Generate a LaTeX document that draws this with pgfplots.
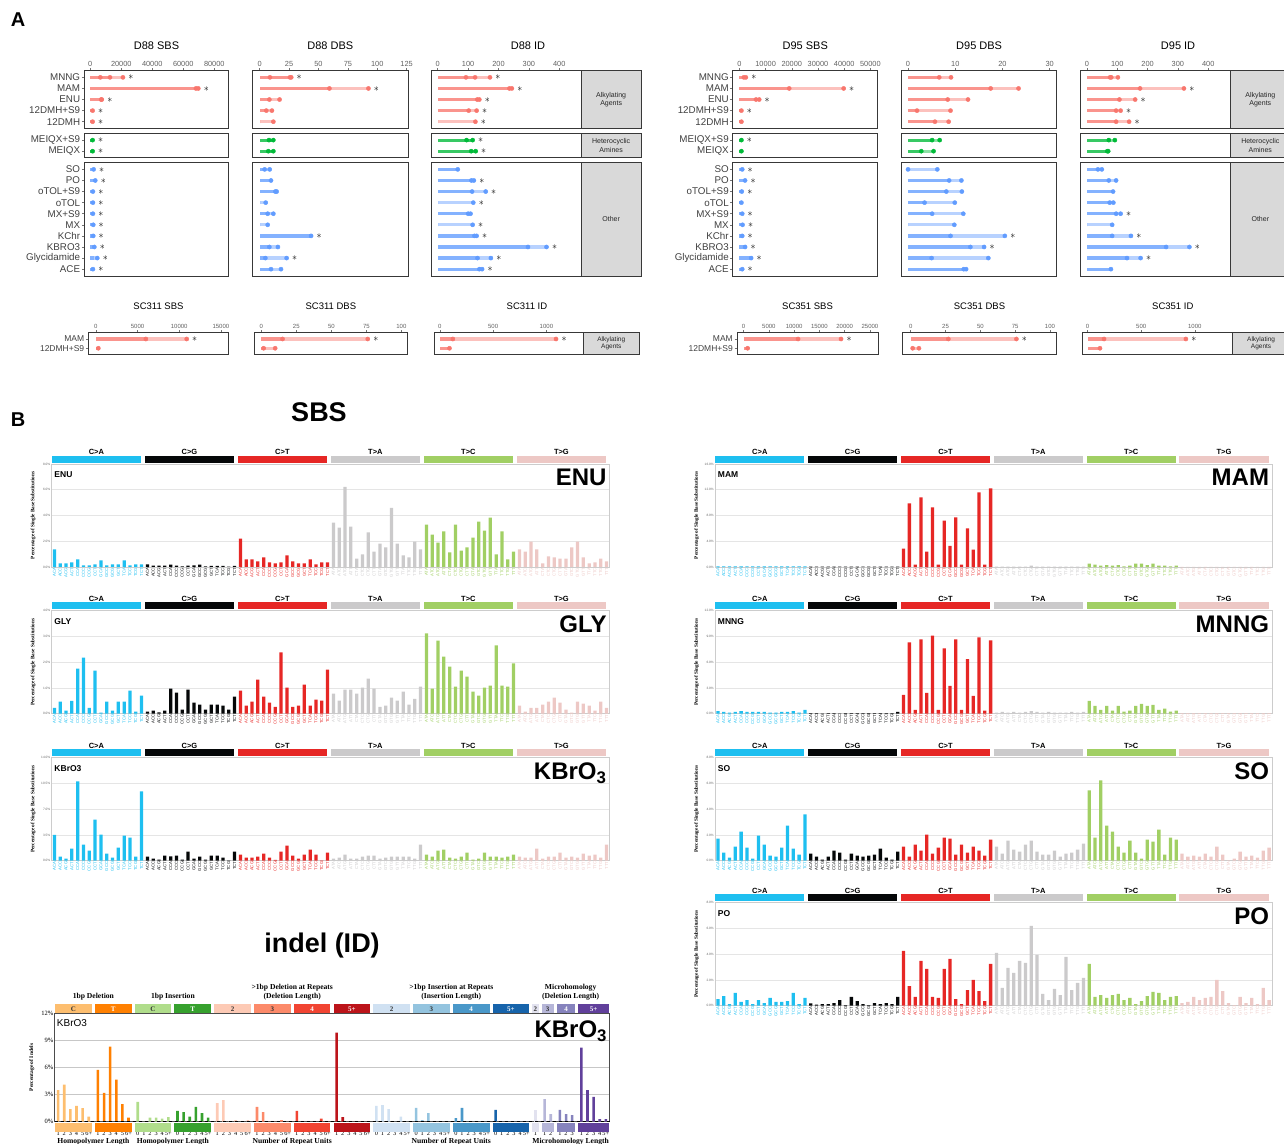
\documentclass[border=0pt]{standalone}
\usepackage{pgfplots}
\pgfplotsset{compat=1.18}
\usepackage{pgfplotstable}
\usepackage{fontspec}
\setmainfont{Liberation Sans}
\newfontfamily\tnr{Liberation Serif}
\newcommand\fs[1]{\fontsize{#1}{#1}\selectfont}

\definecolor{cR}{HTML}{F8766D}
\definecolor{cG}{HTML}{00BA38}
\definecolor{cB}{HTML}{619CFF}
\definecolor{g0}{HTML}{1EBFF0}
\definecolor{g1}{HTML}{050708}
\definecolor{g2}{HTML}{E62725}
\definecolor{g3}{HTML}{CBCACB}
\definecolor{g4}{HTML}{A1CF64}
\definecolor{g5}{HTML}{EDC8C5}
\definecolor{i0}{HTML}{FDBE6F}
\definecolor{i1}{HTML}{FF8001}
\definecolor{i2}{HTML}{B0DD8B}
\definecolor{i3}{HTML}{36A12E}
\definecolor{i4}{HTML}{FDCAB5}
\definecolor{i5}{HTML}{FC8A6A}
\definecolor{i6}{HTML}{F14432}
\definecolor{i7}{HTML}{BC141A}
\definecolor{i8}{HTML}{D0E1F2}
\definecolor{i9}{HTML}{94C4DF}
\definecolor{i10}{HTML}{4A98C9}
\definecolor{i11}{HTML}{1764AB}
\definecolor{i12}{HTML}{E2E2EF}
\definecolor{i13}{HTML}{B6B6D8}
\definecolor{i14}{HTML}{8683BD}
\definecolor{i15}{HTML}{61409B}

\tikzset{
 bx/.style={line width=0.9pt, draw=black!78},
 stx/.style={xshift=8pt, yshift=-0.3pt, font=\fs{10}, inner sep=0pt},
 stl/.style={font=\fontsize{7}{8.5}\selectfont, align=center, text=black!85},
 ttl/.style={yshift=24.7pt, font=\fs{11}},
 ttlS/.style={yshift=25.8pt, font=\fs{9.5}},
 hd/.style={font=\bfseries\fs{7.5}, inner sep=0pt},
 ihd/.style={font=\tnr\bfseries\fontsize{7.6}{9}\selectfont, align=center},
}

\pgfplotsset{
 /pgf/number format/assume math mode=true,
 /pgf/number format/1000 sep={},
 lt/.style={xbar, bar width=3.2pt, bar shift=0pt, draw=none, fill=#1!45!white},
 dk/.style={xbar, bar width=3.2pt, bar shift=0pt, draw=none, fill=#1!78!white},
 dt/.style={only marks, mark=*, mark size=2.1pt, color=#1, mark options={fill=#1, draw=#1}},
 panA/.style={scale only axis, anchor=north west, height=206pt, ymin=-17.98, ymax=0.6, clip=false,
   axis line style={draw=none}, xtick pos=right, xticklabel pos=right, ytick=\empty,
   tick align=outside, major tick length=2.5pt, tick style={black!55, line width=0.5pt},
   xticklabel style={font=\fs{7.4}, text=black!62, inner sep=1.2pt},
   yticklabel style={font=\fs{9.8}, text=black!75, inner sep=1.5pt},
   scaled x ticks=false},
 rowlabs/.style={ytick={0,-1,-2,-3,-4,-5.66,-6.66,-8.3,-9.3,-10.3,-11.3,-12.3,-13.3,-14.3,-15.3,-16.3,-17.3},
   yticklabels={MNNG,MAM,ENU,12DMH+S9,12DMH,MEIQX+S9,MEIQX,SO,PO,oTOL+S9,oTOL,MX+S9,MX,KChr,KBRO3,Glycidamide,ACE},
   ytick pos=left},
 scA/.style={panA, height=21.5pt, ymin=-1.62, ymax=0.70,
   xticklabel style={font=\fs{6}}, yticklabel style={font=\fs{8.5}}},
 sbs/.style={scale only axis, anchor=north west, width=558pt, height=103pt, xmin=0.5, xmax=96.5, ymin=0, clip=false,
   axis line style={black!20, line width=0.6pt}, ymajorgrids, grid style={black!10, line width=0.6pt},
   xtick={1,...,96}, xticklabel={\sbslab}, major tick length=0pt,
   xticklabel style={rotate=90, anchor=east, font=\fs{4.2}, inner sep=0.8pt},
   yticklabel={\pgfmathprintnumber[fixed, fixed zerofill, precision=1]{\tick}\%},
   yticklabel style={font=\fs{3.2}, text=black!60, inner sep=1pt},
   ylabel={Percentage of Single Base Substitutions},
   ylabel style={font={\tnr\bfseries\fs{5.2}}, at={(rel axis cs:-0.0225,0.5)}, anchor=south}},
 sb/.style={ybar, bar width=3.3pt, bar shift=0pt, draw=none, fill=#1},
}

\newcommand\rw[6]{%
\addplot[lt=#1] coordinates {(#4,#2)};%
\addplot[dk=#1] coordinates {(#3,#2)};%
\addplot[dt=#1] coordinates {#5};%
\ifnum#6=1 \node[stx] at (axis cs:#4,#2) {$\ast$};\fi}

\newcommand\boxesA{%
\draw[bx] (rel axis cs:0,0.7204) rectangle (rel axis cs:1,1);
\draw[bx] (rel axis cs:0,0.5796) rectangle (rel axis cs:1,0.6961);
\draw[bx] (rel axis cs:0,0) rectangle (rel axis cs:1,0.5553);}
\newcommand\stripA[2]{%
\draw[bx, fill=black!15] (rel axis cs:1,0.7204) rectangle (rel axis cs:#1,1);
\draw[bx, fill=black!15] (rel axis cs:1,0.5796) rectangle (rel axis cs:#1,0.6961);
\draw[bx, fill=black!15] (rel axis cs:1,0) rectangle (rel axis cs:#1,0.5553);
\node[stl] at (rel axis cs:#2,0.8602) {Alkylating\\Agents};
\node[stl] at (rel axis cs:#2,0.6379) {Heterocyclic\\Amines};
\node[stl] at (rel axis cs:#2,0.2777) {Other};}
\newcommand\stripS[2]{%
\draw[bx, fill=black!15] (rel axis cs:1,0) rectangle (rel axis cs:#1,1);
\node[stl, font=\fontsize{6.5}{7.5}\selectfont] at (rel axis cs:#2,0.5) {Alkylating\\Agents};}

\newcommand\nt[1]{\ifcase#1 A\or C\or G\or T\fi}
\newcommand\sbslab{%
\pgfmathtruncatemacro\Sg{\ticknum/16}%
\pgfmathtruncatemacro\Sc{\ticknum-16*\Sg}%
\pgfmathtruncatemacro\Sq{\Sc/4}%
\pgfmathtruncatemacro\Sr{\Sc-4*\Sq}%
\textcolor{g\Sg}{\nt\Sq\ifnum\Sg<3 C\else T\fi\nt\Sr}}

\newcommand\sbsbars[1]{%
\addplot[sb=g0, restrict x to domain=0.5:16.5] table[x expr=\coordindex+1, y=v] {#1};
\addplot[sb=g1, restrict x to domain=16.5:32.5] table[x expr=\coordindex+1, y=v] {#1};
\addplot[sb=g2, restrict x to domain=32.5:48.5] table[x expr=\coordindex+1, y=v] {#1};
\addplot[sb=g3, restrict x to domain=48.5:64.5] table[x expr=\coordindex+1, y=v] {#1};
\addplot[sb=g4, restrict x to domain=64.5:80.5] table[x expr=\coordindex+1, y=v] {#1};
\addplot[sb=g5, restrict x to domain=80.5:96.5] table[x expr=\coordindex+1, y=v] {#1};}
\newcommand\sbshead{%
\fill[g0] (rel axis cs:0.0005,1.0126) rectangle (rel axis cs:0.1605,1.0806);
\fill[g1] (rel axis cs:0.1672,1.0126) rectangle (rel axis cs:0.3272,1.0806);
\fill[g2] (rel axis cs:0.3338,1.0126) rectangle (rel axis cs:0.4938,1.0806);
\fill[g3] (rel axis cs:0.5005,1.0126) rectangle (rel axis cs:0.6605,1.0806);
\fill[g4] (rel axis cs:0.6672,1.0126) rectangle (rel axis cs:0.8272,1.0806);
\fill[g5] (rel axis cs:0.8338,1.0126) rectangle (rel axis cs:0.9938,1.0806);
\node[hd] at (rel axis cs:0.0805,1.119) {C>A};
\node[hd] at (rel axis cs:0.2472,1.119) {C>G};
\node[hd] at (rel axis cs:0.4138,1.119) {C>T};
\node[hd] at (rel axis cs:0.5805,1.119) {T>A};
\node[hd] at (rel axis cs:0.7472,1.119) {T>C};
\node[hd] at (rel axis cs:0.9138,1.119) {T>G};}
\newcommand\sbstext[2]{%
\node[font=\bfseries\fs{8.5}, anchor=west, inner sep=0pt] at (rel axis cs:0.005,0.894) {#1};
\node[font=\bfseries\fs{24}, anchor=north east, inner sep=0pt] at (rel axis cs:0.995,0.952) {#2};}

% SBS profiles (percent of single base substitutions), 96 channels each
\pgfplotstableread[row sep=\\]{v\\
1.36\\0.28\\0.28\\0.36\\0.60\\0.12\\0.12\\0.20\\0.52\\0.12\\0.20\\0.20\\0.52\\0.12\\0.20\\0.20\\
0.20\\0.10\\0.10\\0.10\\0.18\\0.10\\0.05\\0.10\\0.13\\0.18\\0.05\\0.08\\0.08\\0.08\\0.02\\0.08\\
2.20\\0.60\\0.60\\0.44\\0.74\\0.36\\0.28\\0.36\\0.90\\0.44\\0.28\\0.28\\0.60\\0.20\\0.36\\0.36\\
3.44\\3.06\\6.22\\3.14\\0.66\\0.98\\2.68\\1.20\\1.82\\1.52\\4.60\\1.82\\0.90\\0.74\\1.98\\1.36\\
3.30\\2.52\\1.90\\2.76\\1.14\\3.30\\1.28\\1.52\\2.28\\3.52\\2.82\\3.84\\0.98\\2.76\\0.60\\1.20\\
1.36\\1.20\\1.98\\1.36\\0.28\\0.82\\0.74\\0.66\\0.66\\1.52\\1.98\\0.74\\0.28\\0.36\\0.66\\0.44\\
}\tENU
\pgfplotstableread[row sep=\\]{v\\
0.23\\0.47\\0.12\\0.50\\1.75\\2.18\\0.23\\1.67\\0.04\\0.47\\0.12\\0.47\\0.47\\0.90\\0.08\\0.70\\
0.08\\0.12\\0.05\\0.12\\0.97\\0.82\\0.16\\0.94\\0.43\\0.35\\0.16\\0.35\\0.35\\0.31\\0.16\\0.66\\
0.90\\0.31\\0.47\\1.32\\0.66\\0.43\\0.27\\2.38\\1.01\\0.27\\0.31\\1.13\\0.31\\0.55\\0.51\\1.71\\
0.78\\0.51\\0.94\\0.94\\0.78\\1.01\\1.36\\0.97\\0.27\\0.31\\0.62\\0.51\\0.86\\0.35\\0.58\\1.05\\
3.12\\0.97\\2.84\\2.22\\1.83\\1.05\\1.67\\1.44\\0.86\\0.70\\1.01\\1.09\\2.65\\1.09\\1.05\\1.95\\
0.31\\0.08\\0.23\\0.23\\0.35\\0.47\\0.62\\0.43\\0.16\\0.04\\0.47\\0.39\\0.31\\0.12\\0.47\\0.23\\
}\tGLY
\pgfplotstableread[row sep=\\]{v\\
3.50\\0.55\\0.27\\1.64\\10.8\\2.19\\1.37\\5.60\\3.56\\0.96\\0.41\\1.78\\3.42\\3.15\\0.55\\9.44\\
0.55\\0.27\\0.14\\0.68\\0.60\\0.68\\0.14\\1.23\\0.27\\0.55\\0.14\\0.68\\0.68\\0.41\\0.05\\1.23\\
0.82\\0.41\\0.41\\0.55\\0.96\\0.41\\0.10\\1.23\\2.05\\0.68\\0.27\\0.82\\1.50\\0.82\\0.05\\1.09\\
0.27\\0.41\\0.82\\0.27\\0.27\\0.55\\0.68\\0.68\\0.27\\0.41\\0.55\\0.55\\0.55\\0.55\\0.27\\2.19\\
0.82\\0.55\\1.37\\1.50\\0.41\\0.27\\0.55\\1.09\\0.14\\0.27\\1.09\\0.55\\0.55\\0.41\\0.55\\0.82\\
0.55\\0.41\\0.41\\1.64\\0.27\\0.55\\0.55\\1.09\\0.41\\0.55\\0.41\\0.96\\0.68\\0.82\\0.41\\2.19\\
}\tKBR
\pgfplotstableread[row sep=\\]{v\\
0.08\\0.08\\0.08\\0.08\\0.08\\0.08\\0.08\\0.08\\0.08\\0.08\\0.08\\0.08\\0.08\\0.08\\0.08\\0.08\\
0.05\\0.05\\0.05\\0.05\\0.05\\0.05\\0.05\\0.05\\0.05\\0.05\\0.05\\0.05\\0.05\\0.05\\0.05\\0.05\\
2.86\\9.90\\0.36\\10.8\\2.40\\9.26\\0.36\\7.20\\3.30\\7.70\\0.36\\6.00\\2.70\\11.6\\0.36\\12.2\\
0.05\\0.05\\0.05\\0.05\\0.05\\0.05\\0.20\\0.05\\0.05\\0.05\\0.05\\0.05\\0.05\\0.05\\0.05\\0.05\\
0.52\\0.36\\0.20\\0.30\\0.20\\0.30\\0.10\\0.20\\0.52\\0.52\\0.30\\0.52\\0.20\\0.20\\0.10\\0.20\\
0.03\\0.03\\0.03\\0.03\\0.03\\0.03\\0.03\\0.03\\0.03\\0.03\\0.03\\0.03\\0.03\\0.03\\0.03\\0.03\\
}\tMAM
\pgfplotstableread[row sep=\\]{v\\
0.30\\0.20\\0.12\\0.20\\0.30\\0.20\\0.20\\0.20\\0.20\\0.12\\0.12\\0.20\\0.20\\0.30\\0.12\\0.46\\
0.08\\0.08\\0.04\\0.08\\0.08\\0.04\\0.08\\0.08\\0.08\\0.08\\0.08\\0.08\\0.08\\0.08\\0.08\\0.20\\
2.20\\8.30\\0.46\\8.65\\2.42\\9.10\\0.46\\7.60\\3.23\\8.65\\0.46\\6.35\\2.08\\8.90\\0.35\\8.54\\
0.12\\0.20\\0.12\\0.20\\0.12\\0.20\\0.30\\0.20\\0.12\\0.20\\0.12\\0.12\\0.12\\0.20\\0.12\\0.20\\
1.50\\0.92\\0.46\\0.92\\0.35\\0.92\\0.23\\0.35\\0.92\\1.15\\0.92\\1.04\\0.46\\0.58\\0.23\\0.35\\
0.06\\0.06\\0.06\\0.06\\0.06\\0.06\\0.06\\0.06\\0.06\\0.06\\0.06\\0.06\\0.06\\0.06\\0.06\\0.06\\
}\tMNNG
\pgfplotstableread[row sep=\\]{v\\
1.72\\0.62\\0.23\\1.09\\2.26\\1.01\\0.16\\1.95\\1.25\\0.39\\0.31\\1.01\\2.73\\0.94\\0.47\\3.59\\
0.55\\0.31\\0.08\\0.31\\0.78\\0.62\\0.08\\0.55\\0.39\\0.31\\0.39\\0.47\\0.94\\0.23\\0.08\\0.70\\
1.09\\0.31\\1.25\\0.78\\2.03\\0.55\\1.01\\1.79\\1.72\\0.47\\1.25\\0.62\\1.09\\0.78\\0.39\\1.64\\
1.09\\0.55\\1.56\\0.86\\0.70\\1.25\\1.56\\0.70\\0.47\\0.47\\0.78\\0.31\\0.55\\0.62\\0.86\\1.33\\
5.46\\1.79\\6.24\\2.73\\2.26\\1.09\\0.62\\1.56\\0.62\\0.16\\1.64\\1.48\\2.42\\0.47\\1.79\\1.64\\
0.55\\0.31\\0.39\\0.31\\0.55\\0.31\\1.09\\0.47\\0.03\\0.16\\0.70\\0.31\\0.39\\0.23\\0.78\\1.01\\
}\tSO
\pgfplotstableread[row sep=\\]{v\\
0.52\\0.75\\0.13\\0.99\\0.29\\0.44\\0.13\\0.44\\0.21\\0.60\\0.29\\0.29\\0.36\\0.99\\0.13\\0.60\\
0.18\\0.08\\0.13\\0.13\\0.21\\0.44\\0.05\\0.68\\0.36\\0.13\\0.05\\0.21\\0.13\\0.21\\0.13\\0.68\\
4.26\\1.53\\0.68\\3.48\\2.86\\0.68\\0.60\\2.86\\3.64\\0.52\\0.13\\1.22\\2.00\\1.14\\0.36\\3.25\\
4.10\\1.38\\2.94\\2.55\\3.48\\3.33\\6.21\\3.95\\0.91\\0.44\\1.30\\0.83\\3.80\\1.22\\1.77\\2.16\\
3.25\\0.68\\0.83\\0.60\\0.83\\0.91\\0.44\\0.60\\0.13\\0.36\\0.75\\1.07\\0.99\\0.44\\0.68\\0.75\\
0.21\\0.29\\0.68\\0.44\\0.60\\0.68\\2.00\\1.14\\0.21\\0.05\\0.68\\0.21\\0.60\\0.13\\1.38\\0.44\\
}\tPO
% indel profile (KBrO3), percent of indels
\pgfplotstableread{
x y
0 3.5
1 4.1
2 1.4
3 1.75
4 1.5
5 0.55
6.5 5.75
7.5 3.2
8.5 8.3
9.5 4.67
10.5 1.96
11.5 0.44
13 2.2
14 0
15 0.44
16 0.44
17 0.33
18 0.52
19.5 1.19
20.5 1.07
21.5 0.55
22.5 1.63
23.5 0.96
24.5 0.44
26 2.07
27 2.4
28 0.04
29 0.18
30 0
31 0.18
32.5 1.63
33.5 1.07
34.5 0
35.5 0
36.5 0.18
37.5 0
39 1.19
40 0
41 0
42 0
43 0.33
44 0
45.5 9.85
46.5 0.52
47.5 0
48.5 0
49.5 0
50.5 0
52 1.74
53 1.85
54 1.4
55 0
56 0.55
57 0
58.5 1.52
59.5 0.18
60.5 0.96
61.5 0
62.5 0
63.5 0
65 0.4
66 1.52
67 0
68 0
69 0
70 0
71.5 1.3
72.5 0
73.5 0
74.5 0
75.5 0
76.5 0
78 1.3
79.5 2.5
80.5 0.85
82 1.3
83 0.85
84 0.74
85.5 8.2
86.5 3.5
87.5 2.74
88.5 0.3
89.5 0.3
}\tID

\newcommand\ib[3]{\addplot[ybar, bar width=2.6pt, bar shift=0pt, draw=none, fill=#1, restrict x to domain=#2:#3] table[x=x,y=y]{\tID};}
\newcommand\ibk[3]{%
\fill[#1] (axis cs:#2,12) rectangle (axis cs:#3,13.03);
\fill[#1] (axis cs:#2,-0.11) rectangle (axis cs:#3,-1.11);}
\newcommand\ibl[3]{\node[font=\tnr\bfseries\fs{7}, text=#2, inner sep=0pt] at (axis cs:#1,12.5) {#3};}

\begin{document}
\begin{tikzpicture}
\useasboundingbox (0,0) rectangle (1284pt,-1143pt);
\node[font=\bfseries\fs{20}] at (18pt,-20pt) {A};
\node[font=\bfseries\fs{20}] at (18pt,-420pt) {B};

% ---------------- D88 SBS
\begin{axis}[panA, rowlabs, at={(84.3pt,-70.7pt)}, width=144.4pt, xmin=-3870, xmax=89290, xtick={0,20000,40000,60000,80000}]
\boxesA
\node[ttl] at (rel axis cs:0.5,1) {D88 SBS};
\rw{cR}{0}{12690}{21070}{(6450,0)(12690,0)(21070,0)}{1}
\rw{cR}{-1}{69680}{69680}{(68170,-1)(69680,-1)}{1}
\rw{cR}{-2}{7400}{7400}{(7000,-2)(7400,-2)}{1}
\rw{cR}{-3}{1500}{1500}{(1500,-3)}{1}
\rw{cR}{-4}{1500}{1500}{(1500,-4)}{1}
\rw{cG}{-5.66}{1500}{1500}{(1500,-5.66)}{1}
\rw{cG}{-6.66}{1500}{1500}{(1500,-6.66)}{1}
\rw{cB}{-8.3}{2150}{2150}{(2150,-8.3)}{1}
\rw{cB}{-9.3}{3200}{3200}{(3200,-9.3)}{1}
\rw{cB}{-10.3}{1700}{1700}{(1700,-10.3)}{1}
\rw{cB}{-11.3}{1700}{1700}{(1700,-11.3)}{1}
\rw{cB}{-12.3}{1700}{1700}{(1700,-12.3)}{1}
\rw{cB}{-13.3}{1900}{1900}{(1900,-13.3)}{1}
\rw{cB}{-14.3}{1900}{1900}{(1900,-14.3)}{1}
\rw{cB}{-15.3}{2600}{2600}{(2600,-15.3)}{1}
\rw{cB}{-16.3}{2500}{4500}{(4500,-16.3)}{1}
\rw{cB}{-17.3}{1700}{1700}{(1700,-17.3)}{1}
\end{axis}

% ---------------- D88 DBS
\begin{axis}[panA, at={(252.3pt,-70.7pt)}, width=156pt, xmin=-6.3, xmax=126.4, xtick={0,25,50,75,100,125}]
\boxesA
\node[ttl] at (rel axis cs:0.5,1) {D88 DBS};
\rw{cR}{0}{25.7}{26.8}{(8.7,0)(25.7,0)(26.8,0)}{1}
\rw{cR}{-1}{59.3}{92.5}{(59.3,-1)(92.5,-1)}{1}
\rw{cR}{-2}{8.2}{16.9}{(8.2,-2)(16.9,-2)}{0}
\rw{cR}{-3}{5.6}{10.4}{(5.6,-3)(10.4,-3)}{0}
\rw{cR}{-4}{0}{11.6}{(11.6,-4)}{0}
\rw{cG}{-5.66}{11.6}{11.6}{(7.9,-5.66)(11.6,-5.66)}{0}
\rw{cG}{-6.66}{11.6}{11.6}{(7.3,-6.66)(11.6,-6.66)}{0}
\rw{cB}{-8.3}{4.2}{8.5}{(4.2,-8.3)(8.5,-8.3)}{0}
\rw{cB}{-9.3}{9.6}{9.6}{(9.6,-9.3)}{0}
\rw{cB}{-10.3}{14.4}{14.4}{(13.3,-10.3)(14.4,-10.3)}{0}
\rw{cB}{-11.3}{0}{5.1}{(5.1,-11.3)}{0}
\rw{cB}{-12.3}{6.8}{11.6}{(6.8,-12.3)(11.6,-12.3)}{0}
\rw{cB}{-13.3}{0}{6.8}{(6.8,-13.3)}{0}
\rw{cB}{-14.3}{43.7}{43.7}{(43.7,-14.3)}{1}
\rw{cB}{-15.3}{8.2}{15.5}{(8.2,-15.3)(15.5,-15.3)}{0}
\rw{cB}{-16.3}{4.8}{22.9}{(4.8,-16.3)(22.9,-16.3)}{1}
\rw{cB}{-17.3}{9.6}{18.1}{(9.6,-17.3)(18.1,-17.3)}{0}
\end{axis}

% ---------------- D88 ID
\begin{axis}[panA, at={(431.7pt,-70.7pt)}, width=149.6pt, xmin=-19.7, xmax=472.4, xtick={0,100,200,300,400}]
\boxesA
\stripA{1.399}{1.1995}
\node[ttl] at (rel axis cs:0.644,1) {D88 ID};
\rw{cR}{0}{123}{172}{(93,0)(123,0)(172,0)}{1}
\rw{cR}{-1}{244}{244}{(236,-1)(244,-1)}{1}
\rw{cR}{-2}{137}{137}{(130,-2)(137,-2)}{1}
\rw{cR}{-3}{102}{128}{(102,-3)(128,-3)}{1}
\rw{cR}{-4}{0}{124}{(124,-4)}{1}
\rw{cG}{-5.66}{115}{115}{(95,-5.66)(115,-5.66)}{1}
\rw{cG}{-6.66}{125}{125}{(110,-6.66)(125,-6.66)}{1}
\rw{cB}{-8.3}{66}{66}{(66,-8.3)}{0}
\rw{cB}{-9.3}{119}{119}{(111,-9.3)(119,-9.3)}{1}
\rw{cB}{-10.3}{113}{158}{(113,-10.3)(158,-10.3)}{1}
\rw{cB}{-11.3}{0}{117}{(117,-11.3)}{1}
\rw{cB}{-12.3}{108}{108}{(100,-12.3)(108,-12.3)}{0}
\rw{cB}{-13.3}{0}{115}{(115,-13.3)}{1}
\rw{cB}{-14.3}{128}{128}{(121,-14.3)(128,-14.3)}{1}
\rw{cB}{-15.3}{297}{358}{(297,-15.3)(358,-15.3)}{1}
\rw{cB}{-16.3}{131}{175}{(131,-16.3)(175,-16.3)}{1}
\rw{cB}{-17.3}{146}{146}{(137,-17.3)(146,-17.3)}{1}
\end{axis}

% ---------------- D95 SBS
\begin{axis}[panA, rowlabs, at={(732.9pt,-70.7pt)}, width=144.8pt, xmin=-2480, xmax=52790, xtick={0,10000,20000,30000,40000,50000}]
\boxesA
\node[ttl] at (rel axis cs:0.5,1) {D95 SBS};
\rw{cR}{0}{2470}{2470}{(1700,0)(2470,0)}{1}
\rw{cR}{-1}{19000}{39800}{(19000,-1)(39800,-1)}{1}
\rw{cR}{-2}{7560}{7560}{(6330,-2)(7560,-2)}{1}
\rw{cR}{-3}{770}{770}{(770,-3)}{1}
\rw{cR}{-4}{770}{770}{(770,-4)}{0}
\rw{cG}{-5.66}{770}{770}{(770,-5.66)}{1}
\rw{cG}{-6.66}{770}{770}{(770,-6.66)}{0}
\rw{cB}{-8.3}{1080}{1080}{(1080,-8.3)}{1}
\rw{cB}{-9.3}{2160}{2160}{(2160,-9.3)}{1}
\rw{cB}{-10.3}{900}{900}{(900,-10.3)}{1}
\rw{cB}{-11.3}{770}{770}{(770,-11.3)}{0}
\rw{cB}{-12.3}{1080}{1080}{(1080,-12.3)}{1}
\rw{cB}{-13.3}{1200}{1200}{(1200,-13.3)}{1}
\rw{cB}{-14.3}{1080}{1080}{(1080,-14.3)}{1}
\rw{cB}{-15.3}{2160}{2160}{(2160,-15.3)}{1}
\rw{cB}{-16.3}{4480}{4480}{(4480,-16.3)}{1}
\rw{cB}{-17.3}{1080}{1080}{(1080,-17.3)}{1}
\end{axis}

% ---------------- D95 DBS
\begin{axis}[panA, at={(901.5pt,-70.7pt)}, width=155.3pt, xmin=-1.38, xmax=31.5, xtick={0,10,20,30}]
\boxesA
\node[ttl] at (rel axis cs:0.5,1) {D95 DBS};
\rw{cR}{0}{6.6}{9.1}{(6.6,0)(9.1,0)}{0}
\rw{cR}{-1}{17.5}{23.4}{(17.5,-1)(23.4,-1)}{0}
\rw{cR}{-2}{8.4}{12.7}{(8.4,-2)(12.7,-2)}{0}
\rw{cR}{-3}{1.9}{9.0}{(1.9,-3)(9.0,-3)}{0}
\rw{cR}{-4}{5.7}{8.6}{(5.7,-4)(8.6,-4)}{0}
\rw{cG}{-5.66}{5.1}{6.7}{(5.1,-5.66)(6.7,-5.66)}{0}
\rw{cG}{-6.66}{2.8}{5.4}{(2.8,-6.66)(5.4,-6.66)}{0}
\rw{cB}{-8.3}{0}{6.2}{(0,-8.3)(6.2,-8.3)}{0}
\rw{cB}{-9.3}{8.7}{11.3}{(8.7,-9.3)(11.3,-9.3)}{0}
\rw{cB}{-10.3}{8.1}{11.4}{(8.1,-10.3)(11.4,-10.3)}{0}
\rw{cB}{-11.3}{3.5}{9.9}{(3.5,-11.3)(9.9,-11.3)}{0}
\rw{cB}{-12.3}{5.1}{11.7}{(5.1,-12.3)(11.7,-12.3)}{0}
\rw{cB}{-13.3}{0}{9.8}{(9.8,-13.3)}{0}
\rw{cB}{-14.3}{9.0}{20.5}{(9.0,-14.3)(20.5,-14.3)}{1}
\rw{cB}{-15.3}{13.2}{16.1}{(13.2,-15.3)(16.1,-15.3)}{1}
\rw{cB}{-16.3}{5.0}{17.0}{(5.0,-16.3)(17.0,-16.3)}{0}
\rw{cB}{-17.3}{12.3}{12.3}{(11.8,-17.3)(12.3,-17.3)}{0}
\end{axis}

% ---------------- D95 ID
\begin{axis}[panA, at={(1080.2pt,-70.7pt)}, width=150.1pt, xmin=-22.4, xmax=473, xtick={0,100,200,300,400}]
\boxesA
\stripA{1.40}{1.20}
\node[ttl] at (rel axis cs:0.652,1) {D95 ID};
\rw{cR}{0}{80}{102}{(76,0)(80,0)(102,0)}{0}
\rw{cR}{-1}{175}{320}{(175,-1)(320,-1)}{1}
\rw{cR}{-2}{107}{159}{(107,-2)(159,-2)}{1}
\rw{cR}{-3}{96}{111}{(96,-3)(111,-3)}{1}
\rw{cR}{-4}{96}{139}{(96,-4)(139,-4)}{1}
\rw{cG}{-5.66}{72}{92}{(72,-5.66)(92,-5.66)}{0}
\rw{cG}{-6.66}{70}{70}{(67,-6.66)(70,-6.66)}{0}
\rw{cB}{-8.3}{36}{49}{(36,-8.3)(49,-8.3)}{0}
\rw{cB}{-9.3}{72}{96}{(72,-9.3)(96,-9.3)}{0}
\rw{cB}{-10.3}{86}{86}{(86,-10.3)}{0}
\rw{cB}{-11.3}{75}{87}{(75,-11.3)(87,-11.3)}{0}
\rw{cB}{-12.3}{96}{111}{(96,-12.3)(111,-12.3)}{1}
\rw{cB}{-13.3}{0}{83}{(83,-13.3)}{0}
\rw{cB}{-14.3}{83}{145}{(83,-14.3)(145,-14.3)}{1}
\rw{cB}{-15.3}{261}{338}{(261,-15.3)(338,-15.3)}{1}
\rw{cB}{-16.3}{132}{177}{(132,-16.3)(177,-16.3)}{1}
\rw{cB}{-17.3}{79}{79}{(79,-17.3)}{0}
\end{axis}

% ---------------- SC311 / SC351
\begin{axis}[scA, at={(88.4pt,-332.5pt)}, width=140.1pt, xmin=-890, xmax=15910, xtick={0,5000,10000,15000}, ytick={0,-1}, yticklabels={MAM,12DMH+S9}, ytick pos=left]
\draw[bx] (rel axis cs:0,0) rectangle (rel axis cs:1,1);
\node[ttlS] at (rel axis cs:0.5,1) {SC311 SBS};
\rw{cR}{0}{6000}{10900}{(6000,0)(10900,0)}{1}
\rw{cR}{-1}{300}{300}{(300,-1)}{0}
\end{axis}
\begin{axis}[scA, at={(254.7pt,-332.5pt)}, width=152.3pt, xmin=-4.7, xmax=104, xtick={0,25,50,75,100}]
\draw[bx] (rel axis cs:0,0) rectangle (rel axis cs:1,1);
\node[ttlS] at (rel axis cs:0.5,1) {SC311 DBS};
\rw{cR}{0}{15.2}{76}{(15.2,0)(76,0)}{1}
\rw{cR}{-1}{1.7}{9.9}{(1.7,-1)(9.9,-1)}{0}
\end{axis}
\begin{axis}[scA, at={(434pt,-332.5pt)}, width=149pt, xmin=-54, xmax=1343, xtick={0,500,1000}]
\draw[bx] (rel axis cs:0,0) rectangle (rel axis cs:1,1);
\stripS{1.38}{1.19}
\node[ttlS] at (rel axis cs:0.624,1) {SC311 ID};
\rw{cR}{0}{123}{1090}{(123,0)(1090,0)}{1}
\rw{cR}{-1}{91}{91}{(91,-1)}{0}
\end{axis}
\begin{axis}[scA, at={(737pt,-332.5pt)}, width=141pt, xmin=-1310, xmax=26600, xtick={0,5000,10000,15000,20000,25000}, ytick={0,-1}, yticklabels={MAM,12DMH+S9}, ytick pos=left]
\draw[bx] (rel axis cs:0,0) rectangle (rel axis cs:1,1);
\node[ttlS] at (rel axis cs:0.5,1) {SC351 SBS};
\rw{cR}{0}{10770}{19280}{(10770,0)(19280,0)}{1}
\rw{cR}{-1}{800}{800}{(800,-1)}{0}
\end{axis}
\begin{axis}[scA, at={(902.5pt,-332.5pt)}, width=154pt, xmin=-5.9, xmax=104.7, xtick={0,25,50,75,100}]
\draw[bx] (rel axis cs:0,0) rectangle (rel axis cs:1,1);
\node[ttlS] at (rel axis cs:0.5,1) {SC351 DBS};
\rw{cR}{0}{27}{75.9}{(27,0)(75.9,0)}{1}
\rw{cR}{-1}{1.4}{5.9}{(1.4,-1)(5.9,-1)}{0}
\end{axis}
\begin{axis}[scA, at={(1082.7pt,-332.5pt)}, width=149.9pt, xmin=-46, xmax=1353, xtick={0,500,1000}]
\draw[bx] (rel axis cs:0,0) rectangle (rel axis cs:1,1);
\stripS{1.40}{1.19}
\node[ttlS] at (rel axis cs:0.601,1) {SC351 ID};
\rw{cR}{0}{153}{917}{(153,0)(917,0)}{1}
\rw{cR}{-1}{115}{115}{(115,-1)}{0}
\end{axis}

% ---------------- Panel B titles
\node[font=\bfseries\fs{27}] at (319pt,-412pt) {SBS};
\node[font=\bfseries\fs{27}] at (322pt,-946pt) {indel (ID)};

% ---------------- SBS profiles
\begin{axis}[sbs, at={(51.5pt,-464pt)}, ymax=8, ytick={0,2,4,6,8}]
\sbsbars{\tENU}\sbshead\sbstext{ENU}{ENU}
\end{axis}
\begin{axis}[sbs, at={(51.5pt,-610.7pt)}, ymax=4, ytick={0,1,2,3,4}]
\sbsbars{\tGLY}\sbshead\sbstext{GLY}{GLY}
\end{axis}
\begin{axis}[sbs, at={(51.5pt,-757.7pt)}, ymax=14, ytick={0,3.5,7,10.5,14}]
\sbsbars{\tKBR}\sbshead\sbstext{KBrO3}{KBrO\textsubscript{3}}
\end{axis}
\begin{axis}[sbs, at={(715pt,-464pt)}, width=557pt, ymax=16, ytick={0,4,8,12,16}]
\sbsbars{\tMAM}\sbshead\sbstext{MAM}{MAM}
\end{axis}
\begin{axis}[sbs, at={(715pt,-610.7pt)}, width=557pt, ymax=12, ytick={0,3,6,9,12}]
\sbsbars{\tMNNG}\sbshead\sbstext{MNNG}{MNNG}
\end{axis}
\begin{axis}[sbs, at={(715pt,-757.7pt)}, width=557pt, ymax=8, ytick={0,2,4,6,8}]
\sbsbars{\tSO}\sbshead\sbstext{SO}{SO}
\end{axis}
\begin{axis}[sbs, at={(715pt,-902.7pt)}, width=557pt, ymax=8, ytick={0,2,4,6,8}]
\sbsbars{\tPO}\sbshead\sbstext{PO}{PO}
\end{axis}

% ---------------- Indel profile
\begin{axis}[scale only axis, anchor=north west, at={(54.5pt,-1013.3pt)}, width=555pt, height=108.4pt,
  xmin=-0.6, xmax=90.1, ymin=0, ymax=12, clip=false,
  axis line style={black!70, line width=1pt},
  ytick={0,3,6,9,12}, yticklabels={0\%,3\%,6\%,9\%,12\%}, yticklabel style={font=\tnr\fs{6.5}, inner sep=1pt},
  ymajorgrids, grid style={black!22, line width=1.3pt}, major tick length=0pt,
  xtick={0,1,2,3,4,5,6.5,7.5,8.5,9.5,10.5,11.5,13,14,15,16,17,18,19.5,20.5,21.5,22.5,23.5,24.5,26,27,28,29,30,31,32.5,33.5,34.5,35.5,36.5,37.5,39,40,41,42,43,44,45.5,46.5,47.5,48.5,49.5,50.5,52,53,54,55,56,57,58.5,59.5,60.5,61.5,62.5,63.5,65,66,67,68,69,70,71.5,72.5,73.5,74.5,75.5,76.5,78,79.5,80.5,82,83,84,85.5,86.5,87.5,88.5,89.5},
  xticklabels={1,2,3,4,5,6+,1,2,3,4,5,6+,0,1,2,3,4,5+,0,1,2,3,4,5+,1,2,3,4,5,6+,1,2,3,4,5,6+,1,2,3,4,5,6+,1,2,3,4,5,6+,0,1,2,3,4,5+,0,1,2,3,4,5+,0,1,2,3,4,5+,0,1,2,3,4,5+,1,1,2,1,2,3,1,2,3,4,5+},
  xticklabel style={font=\tnr\fs{6.3}, yshift=-9pt, inner sep=0.5pt},
  ylabel={Percentage of Indels}, ylabel style={font={\tnr\bfseries\fs{5.5}}, at={(rel axis cs:-0.03,0.5)}, anchor=south}]
\ib{i0}{-0.5}{5.5}\ib{i1}{6}{12}\ib{i2}{12.5}{18.5}\ib{i3}{19}{25}
\ib{i4}{25.5}{31.5}\ib{i5}{32}{38}\ib{i6}{38.5}{44.5}\ib{i7}{45}{51}
\ib{i8}{51.5}{57.5}\ib{i9}{58}{64}\ib{i10}{64.5}{70.5}\ib{i11}{71}{77}
\ib{i12}{77.5}{78.5}\ib{i13}{79}{81}\ib{i14}{81.5}{84.5}\ib{i15}{85}{90}
\ibk{i0}{-0.5}{5.5}\ibk{i1}{6}{12}\ibk{i2}{12.5}{18.5}\ibk{i3}{19}{25}
\ibk{i4}{25.5}{31.5}\ibk{i5}{32}{38}\ibk{i6}{38.5}{44.5}\ibk{i7}{45}{51}
\ibk{i8}{51.5}{57.5}\ibk{i9}{58}{64}\ibk{i10}{64.5}{70.5}\ibk{i11}{71}{77}
\ibk{i12}{77.5}{78.5}\ibk{i13}{79}{81}\ibk{i14}{81.5}{84.5}\ibk{i15}{85}{90}
\ibl{2.5}{black!80}{C}\ibl{9}{white}{T}\ibl{15.5}{black!80}{C}\ibl{22}{white}{T}
\ibl{28.5}{black!80}{2}\ibl{35}{black!80}{3}\ibl{41.5}{white}{4}\ibl{48}{white}{5+}
\ibl{54.5}{black!80}{2}\ibl{61}{black!80}{3}\ibl{67.5}{white}{4}\ibl{74}{white}{5+}
\ibl{78}{black!80}{2}\ibl{80}{black!80}{3}\ibl{83}{white}{4}\ibl{87.5}{white}{5+}
\draw[dashed, black, line width=0.6pt] (axis cs:-0.6,0) -- (axis cs:90.1,0);
\node[ihd] at (axis cs:5.75,13.84) {1bp Deletion};
\node[ihd] at (axis cs:18.75,13.84) {1bp Insertion};
\node[ihd] at (axis cs:38.25,14.35) {>1bp Deletion at Repeats\\(Deletion Length)};
\node[ihd] at (axis cs:64.25,14.35) {>1bp Insertion at Repeats\\(Insertion Length)};
\node[ihd] at (axis cs:83.75,14.35) {Microhomology\\(Deletion Length)};
\node[ihd] at (axis cs:5.75,-2.2) {Homopolymer Length};
\node[ihd] at (axis cs:18.75,-2.2) {Homopolymer Length};
\node[ihd] at (axis cs:38.25,-2.2) {Number of Repeat Units};
\node[ihd] at (axis cs:64.25,-2.2) {Number of Repeat Units};
\node[ihd] at (axis cs:83.75,-2.2) {Microhomology Length};
\node[font=\fs{10}, anchor=west, inner sep=0pt] at (rel axis cs:0.004,0.913) {KBrO3};
\node[font=\bfseries\fs{24}, anchor=north east, inner sep=0pt] at (rel axis cs:0.996,0.932) {KBrO\textsubscript{3}};
\end{axis}
\end{tikzpicture}
\end{document}
